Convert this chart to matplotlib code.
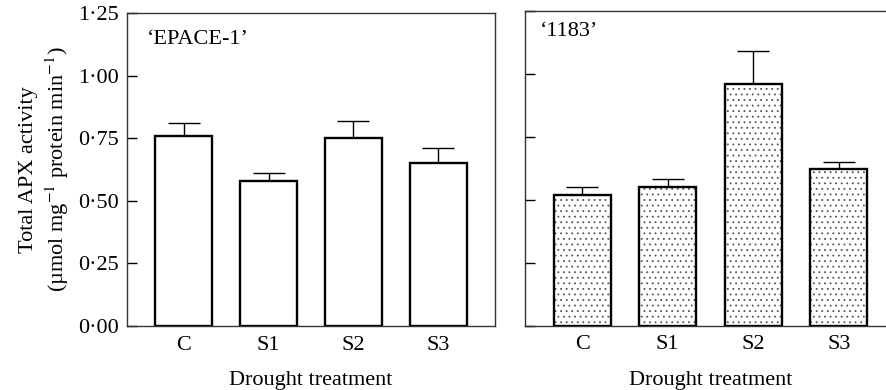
import matplotlib.pyplot as plt
import numpy as np

plt.rcParams['font.family'] = ['Liberation Serif', 'DejaVu Serif']
plt.rcParams['mathtext.fontset'] = 'stix'
plt.rcParams['hatch.linewidth'] = 0.6

categorias = ["C", "S1", "S2", "S3"]
epace_media = [0.76, 0.58, 0.75, 0.65]
epace_erro = [0.05, 0.03, 0.07, 0.06]
l1183_media = [0.52, 0.55, 0.96, 0.62]
l1183_erro = [0.03, 0.03, 0.13, 0.03]
yticks = [0, 0.25, 0.5, 0.75, 1.0, 1.25]
ytick_labels = ["0·00", "0·25", "0·50", "0·75", "1·00", "1·25"]

fig = plt.figure(figsize=(8.87, 3.9), dpi=100)
ax1 = fig.add_axes([0.1432, 0.1641, 0.4149, 0.8026])
ax2 = fig.add_axes([0.5919, 0.1649, 0.4183, 0.808])

x = np.arange(len(categorias))
fs = 16

# --- Painel 'EPACE-1' ---
ax1.bar(x, epace_media, width=0.667, color="white", edgecolor="black", linewidth=1.7, zorder=2)
ax1.errorbar(x, epace_media, yerr=[[0] * 4, epace_erro], fmt="none", ecolor="black",
             elinewidth=1.0, capsize=11.5, capthick=1.0, zorder=1)
ax1.text(0.055, 0.915, "‘EPACE-1’", transform=ax1.transAxes, fontsize=fs, va="center")
ax1.set_yticks(yticks)
ax1.set_yticklabels(ytick_labels)
ax1.set_ylabel("Total APX activity\n(µmol mg$^{-1}$ protein min$^{-1}$)", fontsize=fs,
               linespacing=1.25, labelpad=5)

# --- Painel '1183' ---
ax2.bar(x, l1183_media, width=0.667, color="white", edgecolor="#555555", hatch="...",
        linewidth=0, zorder=2)
ax2.bar(x, l1183_media, width=0.667, fill=False, edgecolor="black", linewidth=1.7, zorder=3)
ax2.errorbar(x, l1183_media, yerr=[[0] * 4, l1183_erro], fmt="none", ecolor="black",
             elinewidth=1.0, capsize=11.5, capthick=1.0, zorder=1)
ax2.text(0.04, 0.935, "‘1183’", transform=ax2.transAxes, fontsize=fs, va="center")
ax2.set_yticks(yticks)
ax2.set_yticklabels([])

for ax in (ax1, ax2):
    ax.set_xlim(-0.667, 3.667)
    ax.set_ylim(0, 1.25)
    ax.set_xticks(x)
    ax.set_xticklabels(categorias)
    ax.tick_params(axis="x", length=0, pad=7, labelsize=fs)
    ax.tick_params(axis="y", direction="in", length=7, width=1, pad=6, labelsize=fs)
    ax.set_xlabel("Drought treatment", fontsize=fs, labelpad=12)
    for s in ax.spines.values():
        s.set_linewidth(1.0)
        s.set_color("#333333")

fig.savefig("out.png", dpi=100)
